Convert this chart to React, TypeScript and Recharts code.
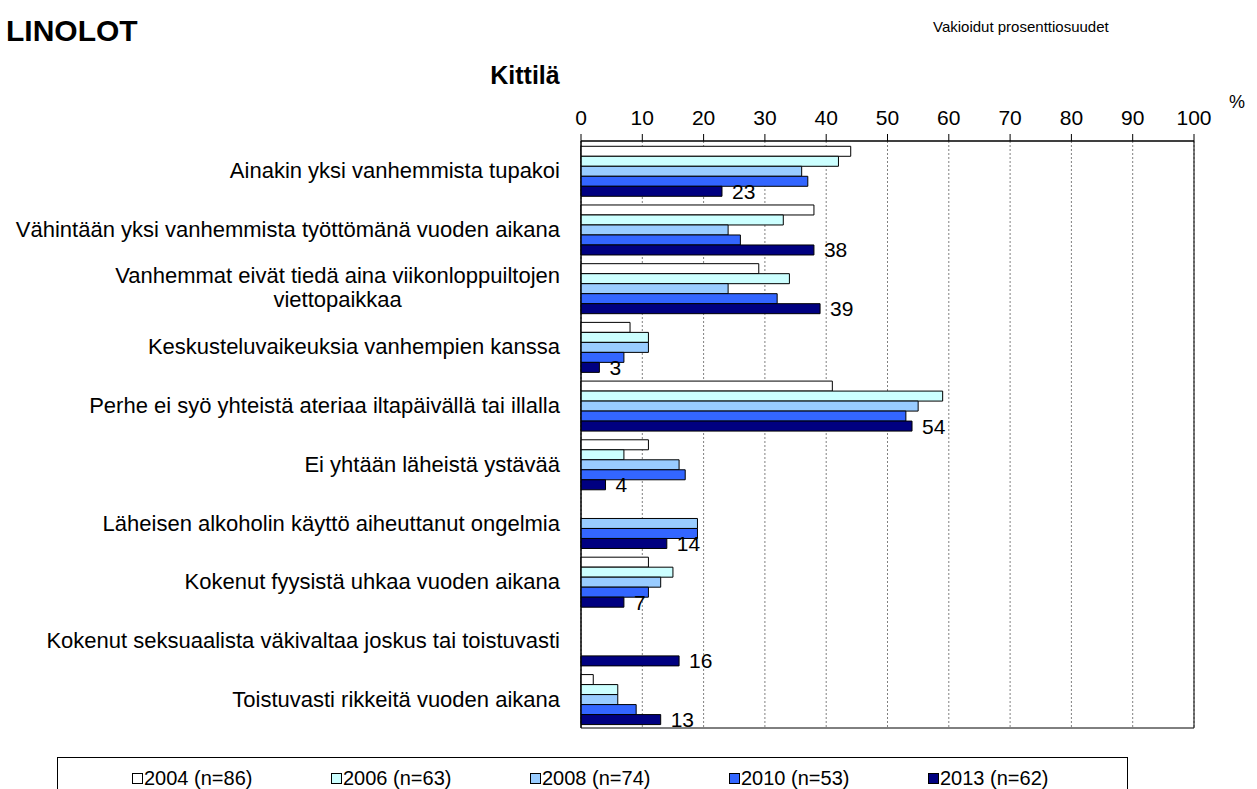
import React from 'react';
import {Bar, BarChart, CartesianGrid, LabelList, ReferenceArea, XAxis, YAxis} from 'recharts';

const FONT = 'Arial, "Liberation Sans", sans-serif';

const categories = [
  'Ainakin yksi vanhemmista tupakoi',
  'Vähintään yksi vanhemmista työttömänä vuoden aikana',
  'Vanhemmat eivät tiedä aina viikonloppuiltojen\nviettopaikkaa',
  'Keskusteluvaikeuksia vanhempien kanssa',
  'Perhe ei syö yhteistä ateriaa iltapäivällä tai illalla',
  'Ei yhtään läheistä ystävää',
  'Läheisen alkoholin käyttö aiheuttanut ongelmia',
  'Kokenut fyysistä uhkaa vuoden aikana',
  'Kokenut seksuaalista väkivaltaa joskus tai toistuvasti',
  'Toistuvasti rikkeitä vuoden aikana',
];

const v2004 = [44, 38, 29, 8, 41, 11, null, 11, null, 2];
const v2006 = [42, 33, 34, 11, 59, 7, null, 15, null, 6];
const v2008 = [36, 24, 24, 11, 55, 16, 19, 13, null, 6];
const v2010 = [37, 26, 32, 7, 53, 17, 19, 11, null, 9];
const v2013 = [23, 38, 39, 3, 54, 4, 14, 7, 16, 13];

const seriesKeys = ['y2004', 'y2006', 'y2008', 'y2010', 'y2013'];
const seriesNames = ['2004 (n=86)', '2006 (n=63)', '2008 (n=74)', '2010 (n=53)', '2013 (n=62)'];
const seriesColors = ['#FFFFFF', '#CCFFFF', '#99CCFF', '#3366FF', '#000080'];

const xTicks = [0, 10, 20, 30, 40, 50, 60, 70, 80, 90, 100];

const data = categories.map((name, i) => ({
  name,
  y2004: v2004[i],
  y2006: v2006[i],
  y2008: v2008[i],
  y2010: v2010[i],
  y2013: v2013[i],
}));

const LABEL_SIZE = 22;

let measureCtx: CanvasRenderingContext2D | null = null;
function textWidth(s: string, size: number) {
  if (!measureCtx) measureCtx = document.createElement('canvas').getContext('2d');
  if (!measureCtx) return s.length * size * 0.5;
  measureCtx.font = `${size}px ${FONT}`;
  return measureCtx.measureText(s).width;
}

// category labels, long one is split on '\n' and centred as a block
function CategoryTick(props: any) {
  const {x, y, payload} = props;
  const lines = String(payload.value).split('\n');
  if (lines.length === 1) {
    return (
      <text x={x} y={y} dy={8} textAnchor="end" fontSize={LABEL_SIZE} fontFamily={FONT} fill="#000">
        {lines[0]}
      </text>
    );
  }
  const w = Math.max(...lines.map((l) => textWidth(l, LABEL_SIZE)));
  const lh = 24;
  const top = y - ((lines.length - 1) * lh) / 2;
  return (
    <text textAnchor="middle" fontSize={LABEL_SIZE} fontFamily={FONT} fill="#000">
      {lines.map((l, i) => (
        <tspan key={i} x={x - w / 2} y={top + i * lh} dy={7}>
          {l}
        </tspan>
      ))}
    </text>
  );
}

export default function App() {
  return (
    <div style={{position: 'absolute', left: 0, top: 0, width: 1257, height: 789, overflow: 'hidden', background: '#fff', fontFamily: FONT}}>
      <BarChart
        width={1257}
        height={789}
        data={data}
        layout="vertical"
        margin={{top: 111, right: 63, bottom: 61, left: 0}}
        barCategoryGap="9%"
        barGap={0}
      >
        <CartesianGrid horizontal={false} stroke="#808080" strokeDasharray="2 2" />
        <XAxis
          type="number"
          orientation="top"
          domain={[0, 100]}
          ticks={xTicks}
          interval={0}
          height={30}
          tickSize={7}
          tickMargin={9}
          stroke="#000"
          tick={{fill: '#000', fontSize: 21, fontFamily: FONT}}
        />
        <YAxis
          type="category"
          dataKey="name"
          width={581}
          tickLine={false}
          tickSize={0}
          tickMargin={21}
          interval={0}
          stroke="#000"
          tick={<CategoryTick />}
        />
        <ReferenceArea x1={0} x2={100} fill="none" stroke="#000" strokeWidth={1} ifOverflow="visible" />
        {seriesKeys.map((key, i) => (
          <Bar
            key={key}
            dataKey={key}
            name={seriesNames[i]}
            fill={seriesColors[i]}
            stroke="#000"
            strokeWidth={1}
            isAnimationActive={false}
          >
            {key === 'y2013' && (
              <LabelList dataKey={key} position="right" offset={10} fill="#000" fontSize={21} fontFamily={FONT} />
            )}
          </Bar>
        ))}
      </BarChart>

      <svg width={1257} height={789} style={{position: 'absolute', left: 0, top: 0, pointerEvents: 'none'}}>
        <text x={6} y={41} fontSize={30} fontWeight="bold" fontFamily={FONT} fill="#000">LINOLOT</text>
        <text x={525} y={84} textAnchor="middle" fontSize={25} fontWeight="bold" fontFamily={FONT} fill="#000">Kittilä</text>
        <text x={933} y={32} fontSize={15} fontFamily={FONT} fill="#000">Vakioidut prosenttiosuudet</text>
        <text x={1229} y={108} fontSize={18} fontFamily={FONT} fill="#000">%</text>
      </svg>

      <div
        style={{
          position: 'absolute',
          left: 57,
          top: 757,
          width: 1071,
          height: 40,
          border: '1px solid #000',
          borderBottom: 'none',
          boxSizing: 'border-box',
          display: 'flex',
          paddingLeft: 74,
          paddingTop: 9,
        }}
      >
        {seriesNames.map((n, i) => (
          <div key={n} style={{width: 199.6, display: 'flex', alignItems: 'center', fontSize: 20, lineHeight: '22px', height: 22}}>
            <span style={{display: 'inline-block', width: 9, height: 9, border: '1px solid #000', background: seriesColors[i], marginRight: 1}} />
            <span>{n}</span>
          </div>
        ))}
      </div>
    </div>
  );
}
